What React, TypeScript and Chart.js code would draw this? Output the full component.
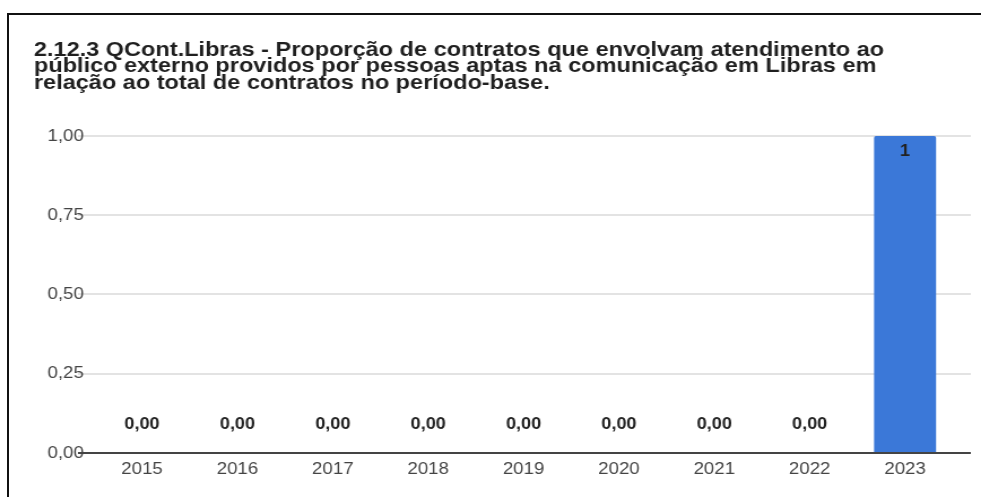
import React, { useEffect, useRef } from "react";
import { Chart, registerables } from "chart.js";

Chart.register(...registerables);

const titleLines = [
  "2.12.3 QCont.Libras - Proporção de contratos que envolvam atendimento ao",
  "público externo providos por pessoas aptas na comunicação em Libras em",
  "relação ao total de contratos no período-base.",
];
const years = ["2015", "2016", "2017", "2018", "2019", "2020", "2021", "2022", "2023"];
const values = [0, 0, 0, 0, 0, 0, 0, 0, 1];
const barLabels = ["0,00", "0,00", "0,00", "0,00", "0,00", "0,00", "0,00", "0,00", "1"];
const yTicks = [0, 0.25, 0.5, 0.75, 1];

const FONT = "Arial, 'Liberation Sans', sans-serif";
// the reference image is slightly stretched horizontally
const STRETCH = 1.13;
const CSS_W = 981;
const CSS_H = 497;
const INT_W = Math.round(CSS_W / STRETCH);

export default function App() {
  const ref = useRef<HTMLCanvasElement | null>(null);

  useEffect(() => {
    if (!ref.current) return;
    const labelPlugin = {
      id: "barLabels",
      afterDatasetsDraw(chart: any) {
        const ctx = chart.ctx;
        const meta = chart.getDatasetMeta(0);
        ctx.save();
        ctx.font = `bold 16px ${FONT}`;
        ctx.fillStyle = "#222";
        ctx.textAlign = "center";
        ctx.textBaseline = "middle";
        meta.data.forEach((el: any, i: number) => {
          const v = values[i];
          const y = v > 0 ? el.y + 16 : el.y - 28;
          ctx.fillText(barLabels[i], el.x, y);
        });
        ctx.restore();
      },
    };
    const gridColor = (c: any) => (c.tick && c.tick.value === 0 ? "#444" : "#e3e3e3");
    const chart = new Chart(ref.current, {
      type: "bar",
      data: {
        labels: years,
        datasets: [
          {
            data: values,
            backgroundColor: "#3b78d8",
            borderRadius: 2,
            borderSkipped: "bottom",
            categoryPercentage: 1,
            barPercentage: 0.65,
          },
        ],
      },
      plugins: [labelPlugin],
      options: {
        animation: false,
        responsive: false,
        layout: { padding: { left: 30, right: 9, top: 0, bottom: 0 } },
        plugins: {
          legend: { display: false },
          tooltip: { enabled: false },
          title: {
            display: true,
            text: titleLines,
            align: "start",
            color: "#1f1f1f",
            font: { family: FONT, size: 20.8, weight: "bold", lineHeight: 0.793 },
            padding: { top: 42, bottom: 44.5 },
          },
        },
        scales: {
          x: {
            grid: { display: false, drawTicks: false },
            border: { display: false },
            ticks: { color: "#444", font: { family: FONT, size: 16.5 }, padding: 7 },
            afterFit: (s: any) => {
              s.height = 44;
            },
          },
          y: {
            min: 0,
            max: 1,
            afterBuildTicks: (s: any) => {
              s.ticks = yTicks.map((v) => ({ value: v }));
            },
            grid: { color: gridColor, lineWidth: 2, tickLength: 14.5, drawTicks: true },
            border: { display: false },
            ticks: {
              color: "#444",
              font: { family: FONT, size: 16.5 },
              padding: -5.2,
              callback: (v: any) => Number(v).toFixed(2).replace(".", ","),
            },
            afterFit: (s: any) => {
              s.width = 53.5;
              s._computeLabelArea = () => undefined;
            },
          },
          y2: {
            position: "right",
            min: 0,
            max: 1,
            afterBuildTicks: (s: any) => {
              s.ticks = yTicks.map((v) => ({ value: v }));
            },
            grid: { color: gridColor, lineWidth: 2, tickLength: 16, drawTicks: true, drawOnChartArea: false },
            border: { display: false },
            ticks: { display: false },
          },
        },
      },
    } as any);
    return () => chart.destroy();
  }, []);

  return (
    <>
      <div
        style={{
          position: "absolute",
          left: 7,
          top: 13,
          width: 974,
          height: 484,
          borderTop: "2px solid #111",
          borderLeft: "2px solid #111",
          boxSizing: "border-box",
        }}
      />
      <canvas
        ref={ref}
        width={INT_W}
        height={CSS_H}
        style={{ position: "absolute", left: 0, top: 0, width: CSS_W, height: CSS_H }}
      />
    </>
  );
}
